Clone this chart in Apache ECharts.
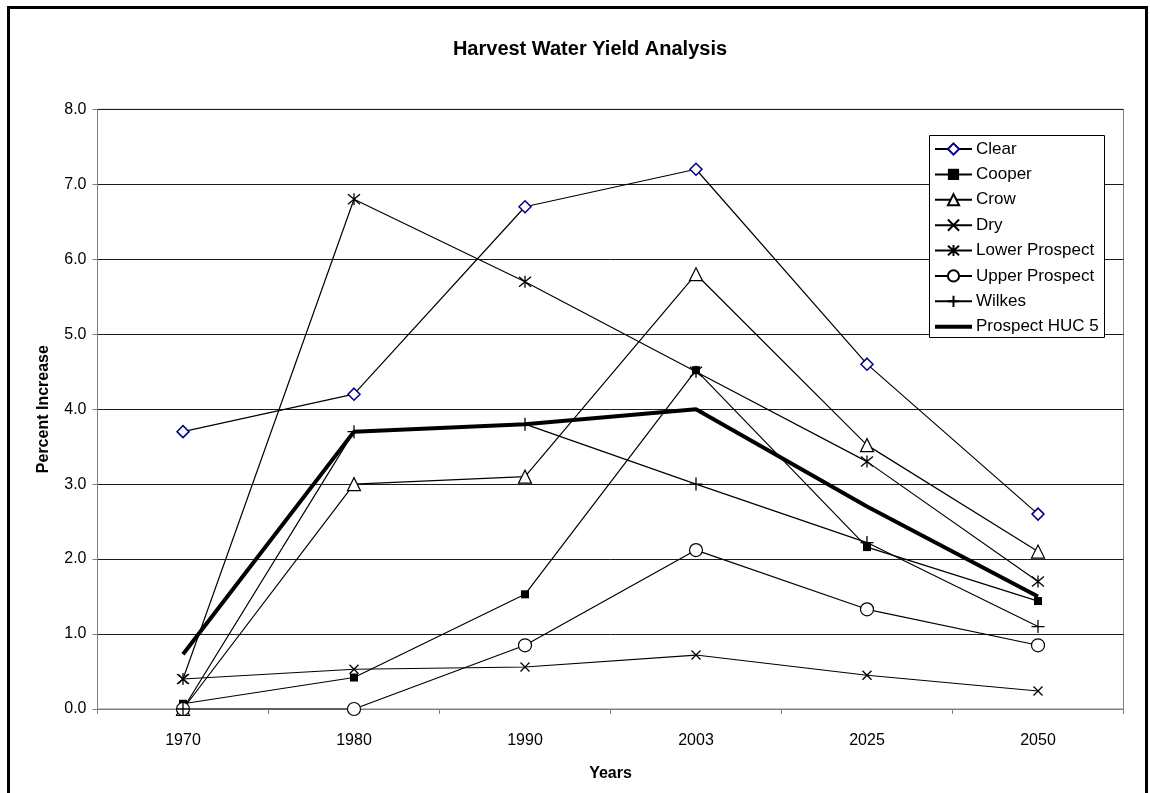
<!DOCTYPE html>
<html>
<head>
<meta charset="utf-8">
<script src="https://cdn.jsdelivr.net/npm/echarts@6/dist/echarts.min.js"></script>
<style>
html,body{margin:0;padding:0;background:#fff;}
#chart{width:1150px;height:793px;}
</style>
</head>
<body>
<div id="chart"></div>
<script>
var years = ['1970', '1980', '1990', '2003', '2025', '2050'];
var seriesNames = ['Clear', 'Cooper', 'Crow', 'Dry', 'Lower Prospect', 'Upper Prospect', 'Wilkes', 'Prospect HUC 5'];
var clear = [3.7, 4.2, 6.7, 7.2, 4.6, 2.6];
var cooper = [0.07, 0.42, 1.53, 4.52, 2.16, 1.44];
var crow = [0.0, 3.0, 3.1, 5.8, 3.52, 2.1];
var dry = [0.4, 0.53, 0.56, 0.72, 0.45, 0.24];
var lowerProspect = [0.4, 6.8, 5.7, 4.5, 3.3, 1.7];
var upperProspect = [0.0, 0.0, 0.85, 2.12, 1.33, 0.85];
var wilkes = [0.0, 3.7, 3.8, 3.0, 2.22, 1.1];
var prospectHUC5 = [0.73, 3.7, 3.8, 4.0, 2.7, 1.5];
var yTicks = ['0.0', '1.0', '2.0', '3.0', '4.0', '5.0', '6.0', '7.0', '8.0'];

var FONT = '"Liberation Sans", Arial, sans-serif';
var chart = echarts.init(document.getElementById('chart'));

function mk(name, data, symbol, size, fill, border, bw) {
  return {
    name: name, type: 'line', data: data,
    symbol: symbol, symbolSize: size, showSymbol: true,
    lineStyle: { color: '#000', width: 1.2 },
    itemStyle: { color: fill, borderColor: border, borderWidth: bw },
    emphasis: { disabled: true },
    animation: false
  };
}

var xPath = 'path://M0,0L10,10M10,0L0,10';
var starPath = 'path://M0,0L10,10M10,0L0,10M5,-1L5,11';
var plusPath = 'path://M5,0L5,10M0,5L10,5';

var series = [
  mk(seriesNames[0], clear, 'diamond', 12, '#fff', '#000080', 1.5),
  mk(seriesNames[1], cooper, 'rect', 8, '#000', '#000', 0),
  mk(seriesNames[2], crow, 'triangle', 13, '#fff', '#000', 1.2),
  mk(seriesNames[3], dry, xPath, 9, 'none', '#000', 1.3),
  mk(seriesNames[4], lowerProspect, starPath, 12, 'none', '#000', 1.3),
  mk(seriesNames[5], upperProspect, 'circle', 13, '#fff', '#000', 1.2),
  mk(seriesNames[6], wilkes, plusPath, 13, 'none', '#000', 1.3),
  {
    name: seriesNames[7], type: 'line', data: prospectHUC5,
    symbol: 'none', showSymbol: false,
    lineStyle: { color: '#000', width: 4 },
    itemStyle: { color: '#000' },
    emphasis: { disabled: true },
    animation: false
  }
];

var legendData = seriesNames.map(function (n, i) {
  if (i === 7) {
    return { name: n, icon: 'path://M0,0L37,0L37,4L0,4Z', itemStyle: { color: '#000', borderWidth: 0 } };
  }
  return { name: n };
});

chart.setOption({
  animation: false,
  backgroundColor: '#fff',
  textStyle: { fontFamily: FONT },
  title: {
    text: 'Harvest Water Yield Analysis',
    left: 585, top: 34, textAlign: 'center',
    textStyle: { fontFamily: FONT, fontSize: 20, fontWeight: 'bold', color: '#000' }
  },
  grid: {
    left: 97.5, right: 26.5, top: 109.3, bottom: 84,
    show: true, borderColor: '#808080', borderWidth: 1, backgroundColor: 'transparent'
  },
  legend: {
    orient: 'vertical', left: 934, top: 140.5,
    itemWidth: 37, itemHeight: 14, itemGap: 8.38,
    padding: 0, symbolKeepAspect: true,
    textStyle: { fontFamily: FONT, fontSize: 17, color: '#000', padding: [0, 0, 0, -1] },
    data: legendData,
    selectedMode: false
  },
  xAxis: {
    type: 'category', data: years, boundaryGap: true,
    axisLine: { lineStyle: { color: '#808080', width: 1 } },
    axisTick: { show: true, length: 5, lineStyle: { color: '#808080' } },
    axisLabel: { fontFamily: FONT, fontSize: 16, color: '#000', margin: 24 },
    name: 'Years', nameLocation: 'middle', nameGap: 57,
    nameTextStyle: { fontFamily: FONT, fontSize: 16, fontWeight: 'bold', color: '#000' },
    splitLine: { show: false }
  },
  yAxis: {
    type: 'value', min: 0, max: 8, interval: 1,
    axisLine: { show: true, lineStyle: { color: '#808080', width: 1 } },
    axisTick: { show: true, length: 5, lineStyle: { color: '#808080' } },
    axisLabel: {
      fontFamily: FONT, fontSize: 16, color: '#000', margin: 11,
      formatter: function (v) { return yTicks[Math.round(v)]; }
    },
    splitLine: { show: true, lineStyle: { color: '#1a1a1a', width: 1 } },
    name: 'Percent Increase', nameLocation: 'middle', nameGap: 46,
    nameTextStyle: { fontFamily: FONT, fontSize: 16, fontWeight: 'bold', color: '#000' }
  },
  graphic: [
    { type: 'rect', z: 100, silent: true,
      shape: { x: 8.5, y: 7.5, width: 1138, height: 810 },
      style: { fill: 'none', stroke: '#000', lineWidth: 3 } },
    { type: 'rect', z: 1, silent: true,
      shape: { x: 929.5, y: 135.5, width: 175, height: 202 },
      style: { fill: '#fff', stroke: '#000', lineWidth: 1 } }
  ],
  series: series
});
</script>
</body>
</html>
